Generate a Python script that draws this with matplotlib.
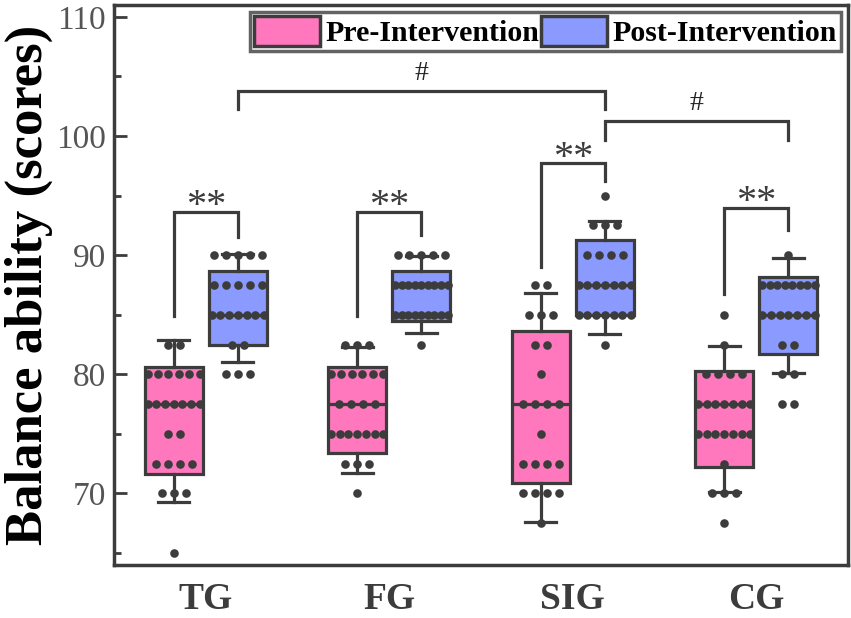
import matplotlib

matplotlib.use("Agg")
import matplotlib.pyplot as plt
import numpy as np
from matplotlib.patches import Patch

# ---------------------------------------------------------------- data
GROUPS = ["TG", "FG", "SIG", "CG"]

# individual scores (value, count)
TG_PRE_VALS = [65, 70, 72.5, 75, 77.5, 80, 82.5]
TG_PRE_CNT = [1, 3, 4, 2, 7, 6, 2]
TG_POST_VALS = [80, 82.5, 85, 87.5, 90]
TG_POST_CNT = [3, 2, 7, 5, 5]

FG_PRE_VALS = [70, 72.5, 75, 77.5, 80, 82.5]
FG_PRE_CNT = [1, 3, 7, 4, 6, 3]
FG_POST_VALS = [82.5, 85, 87.5, 90]
FG_POST_CNT = [1, 9, 9, 5]

SIG_PRE_VALS = [67.5, 70, 72.5, 75, 77.5, 80, 82.5, 85, 87.5]
SIG_PRE_CNT = [1, 4, 4, 1, 4, 1, 2, 3, 2]
SIG_POST_VALS = [82.5, 85, 87.5, 90, 92.5, 95]
SIG_POST_CNT = [1, 7, 7, 4, 3, 1]

CG_PRE_VALS = [67.5, 70, 72.5, 75, 77.5, 80, 82.5, 85]
CG_PRE_CNT = [1, 3, 1, 7, 7, 4, 1, 1]
CG_POST_VALS = [77.5, 80, 82.5, 85, 87.5, 90]
CG_POST_CNT = [2, 2, 2, 7, 8, 1]

# box statistics as drawn: q1, median, q3, lower whisker, upper whisker
PRE_Q1 = [71.6, 73.4, 70.9, 72.2]
PRE_MED = [77.5, 77.5, 77.5, 77.5]
PRE_Q3 = [80.6, 80.6, 83.6, 80.3]
PRE_LO = [69.3, 71.7, 67.6, 70.1]
PRE_HI = [82.9, 82.3, 86.8, 82.4]

POST_Q1 = [82.5, 84.5, 85.0, 81.7]
POST_MED = [85.0, 87.5, 87.5, 85.0]
POST_Q3 = [88.7, 88.7, 91.3, 88.2]
POST_LO = [81.0, 83.5, 83.4, 80.1]
POST_HI = [90.1, 89.9, 92.9, 89.8]

# pre vs post "**" brackets: left leg end, top, right leg end
STAR_LEFT = [84.9, 84.9, 89.0, 86.7]
STAR_TOP = [93.6, 93.6, 97.7, 94.0]
STAR_RIGHT = [91.5, 91.7, 96.2, 92.1]

# between-group "#" brackets on post-intervention: (group a, group b, leg end, top)
HASH_PAIRS = [(0, 2), (2, 3)]
HASH_LEG = [102.3, 99.7]
HASH_TOP = [103.8, 101.3]

PINK = "#FF78BE"
BLUE = "#8B9AFF"
DARK = "#3C3C3C"
SERIF = ["Liberation Serif", "DejaVu Serif"]

OFF = 0.175      # box offset from group centre
BW = 0.317       # box width


def expand(vals, cnts):
    xs, ys = [], []
    for v, c in zip(vals, cnts):
        sp = min(0.065, 0.285 / max(c - 1, 1))
        for j in range(c):
            xs.append((j - (c - 1) / 2) * sp)
            ys.append(v)
    return np.array(xs), np.array(ys)


pre_pts = [(TG_PRE_VALS, TG_PRE_CNT), (FG_PRE_VALS, FG_PRE_CNT),
           (SIG_PRE_VALS, SIG_PRE_CNT), (CG_PRE_VALS, CG_PRE_CNT)]
post_pts = [(TG_POST_VALS, TG_POST_CNT), (FG_POST_VALS, FG_POST_CNT),
            (SIG_POST_VALS, SIG_POST_CNT), (CG_POST_VALS, CG_POST_CNT)]

fig = plt.figure(figsize=(8.51, 6.18), dpi=100)
ax = fig.add_axes([0.134, 0.0858, 0.8625, 0.9062])

lw = 2.3
for stats, col, sgn in [((PRE_Q1, PRE_MED, PRE_Q3, PRE_LO, PRE_HI), PINK, -1),
                        ((POST_Q1, POST_MED, POST_Q3, POST_LO, POST_HI), BLUE, 1)]:
    q1, med, q3, lo, hi = stats
    bx = [dict(q1=q1[i], med=med[i], q3=q3[i], whislo=lo[i], whishi=hi[i], fliers=[])
          for i in range(len(GROUPS))]
    pos = [i + 1 + sgn * OFF for i in range(len(GROUPS))]
    ax.bxp(bx, positions=pos, widths=BW, capwidths=0.17, patch_artist=True,
           showfliers=False,
           boxprops=dict(facecolor=col, edgecolor=DARK, linewidth=lw),
           medianprops=dict(color=DARK, linewidth=lw),
           whiskerprops=dict(color=DARK, linewidth=lw),
           capprops=dict(color=DARK, linewidth=lw), zorder=2)

for pts, sgn in [(pre_pts, -1), (post_pts, 1)]:
    for i, (vals, cnts) in enumerate(pts):
        dx, ys = expand(vals, cnts)
        ax.plot(i + 1 + sgn * OFF + dx, ys, "o", color=DARK, ms=6.2, mew=0, zorder=4)

# significance brackets
for i in range(len(GROUPS)):
    xa, xb = i + 1 - OFF, i + 1 + OFF
    ax.plot([xa, xa, xb, xb], [STAR_LEFT[i], STAR_TOP[i], STAR_TOP[i], STAR_RIGHT[i]],
            color=DARK, lw=lw, solid_joinstyle="miter", zorder=3)
    ax.text((xa + xb) / 2, STAR_TOP[i] - 1.1, "**", ha="center", va="bottom",
            fontsize=29, color=DARK, family=SERIF)

for (a, b), leg, top in zip(HASH_PAIRS, HASH_LEG, HASH_TOP):
    xa, xb = a + 1 + OFF, b + 1 + OFF
    ax.plot([xa, xa, xb, xb], [leg, top, top, leg], color=DARK, lw=lw,
            solid_joinstyle="miter", zorder=3)
    ax.text((xa + xb) / 2, top + 0.4, "#", ha="center", va="bottom",
            fontsize=20, color="#222222", family=SERIF)

ax.set_xlim(0.5, 4.5)
ax.set_ylim(64.0, 111.0)
ax.set_yticks([70, 80, 90, 100, 110])
ax.set_yticks([65, 75, 85, 95, 105], minor=True)
ax.set_xticks(range(1, len(GROUPS) + 1))
ax.set_xticklabels(GROUPS, family=SERIF, fontweight="bold", fontsize=27, color=DARK)
ax.tick_params(axis="x", length=0, pad=12)
ax.tick_params(axis="y", which="major", direction="in", length=9, width=2, color=DARK,
               labelsize=24, labelcolor="#555555", pad=6)
ax.tick_params(axis="y", which="minor", direction="in", length=5, width=2, color=DARK)
for lab in ax.get_yticklabels():
    lab.set_family(SERIF)
for sp in ax.spines.values():
    sp.set_linewidth(2.5)
    sp.set_color(DARK)

ax.set_ylabel("Balance ability (scores)", family=SERIF, fontweight="bold",
              fontsize=38, labelpad=2, color="black")

handles = [Patch(facecolor=PINK, edgecolor=DARK, linewidth=2.5, label="Pre-Intervention"),
           Patch(facecolor=BLUE, edgecolor=DARK, linewidth=2.5, label="Post-Intervention")]
leg = ax.legend(handles=handles, loc="upper right", ncol=2, frameon=True, fancybox=False,
                prop=dict(family=SERIF, weight="bold", size=21.5), handlelength=2.2,
                handleheight=1.15, handletextpad=0.2, columnspacing=0.05,
                borderpad=0.12, borderaxespad=0.25)
leg.get_frame().set_edgecolor(DARK)
leg.get_frame().set_linewidth(2.5)

fig.savefig("out.png", dpi=100)
